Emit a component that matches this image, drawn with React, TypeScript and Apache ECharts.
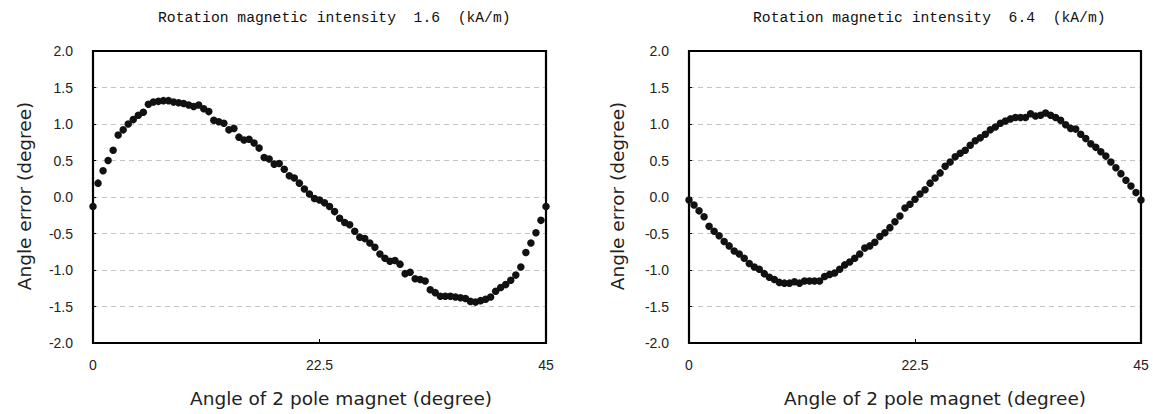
import React, { useEffect, useRef } from "react";
import * as echarts from "echarts";

const STEP = 0.5;
const TITLES = [
  "Rotation magnetic intensity  1.6  (kA/m)",
  "Rotation magnetic intensity  6.4  (kA/m)",
];
const X_NAME = "Angle of 2 pole magnet (degree)";
const Y_NAME = "Angle error (degree)";

const LEFT_VALUES = [
  -0.13, 0.19, 0.36, 0.5, 0.64, 0.85, 0.92, 1.0, 1.06, 1.12, 1.16, 1.27, 1.3, 1.31, 1.32, 1.32,
  1.3, 1.29, 1.28, 1.26, 1.24, 1.26, 1.21, 1.17, 1.05, 1.03, 1.01, 0.92, 0.94, 0.82, 0.78, 0.79,
  0.74, 0.67, 0.54, 0.52, 0.45, 0.46, 0.38, 0.29, 0.26, 0.19, 0.11, 0.04, -0.02, -0.04, -0.08,
  -0.13, -0.2, -0.29, -0.35, -0.38, -0.47, -0.55, -0.57, -0.63, -0.69, -0.78, -0.84, -0.88, -0.87,
  -0.92, -1.05, -1.03, -1.12, -1.13, -1.15, -1.27, -1.31, -1.36, -1.36, -1.36, -1.37, -1.38, -1.39,
  -1.43, -1.44, -1.42, -1.4, -1.37, -1.29, -1.24, -1.2, -1.14, -1.07, -0.96, -0.76, -0.63, -0.49,
  -0.32, -0.13,
];

const RIGHT_VALUES = [
  -0.04, -0.11, -0.19, -0.27, -0.4, -0.47, -0.53, -0.61, -0.67, -0.74, -0.78, -0.84, -0.91, -0.96,
  -0.99, -1.05, -1.1, -1.13, -1.17, -1.18, -1.18, -1.16, -1.18, -1.15, -1.15, -1.15, -1.15, -1.09,
  -1.06, -1.04, -0.99, -0.93, -0.89, -0.84, -0.78, -0.7, -0.67, -0.62, -0.54, -0.49, -0.42, -0.34,
  -0.26, -0.15, -0.1, -0.03, 0.04, 0.1, 0.19, 0.26, 0.33, 0.42, 0.48, 0.55, 0.6, 0.64, 0.71, 0.77,
  0.81, 0.86, 0.92, 0.96, 1.01, 1.04, 1.07, 1.09, 1.09, 1.09, 1.14, 1.11, 1.12, 1.15, 1.12, 1.09,
  1.05, 0.99, 0.94, 0.93, 0.86, 0.8, 0.73, 0.68, 0.62, 0.56, 0.48, 0.4, 0.32, 0.23, 0.15, 0.06,
  -0.04,
];

const X_TICKS = [0, 22.5, 45];
const Y_MIN = -2;
const Y_MAX = 2;
const Y_STEP = 0.5;

const toPairs = (vals: number[]) => vals.map((v, i) => [i * STEP, v]);

export default function App() {
  const ref = useRef<HTMLDivElement>(null);
  useEffect(() => {
    if (!ref.current) return;
    const chart = echarts.init(ref.current, null, { renderer: "svg" });
    const grids = [
      { left: 93, top: 51, width: 453, height: 292 },
      { left: 689, top: 51, width: 452, height: 292 },
    ];
    const tickFont = "'Liberation Sans', Arial, sans-serif";
    const xAxes: any[] = [];
    const yAxes: any[] = [];
    grids.forEach((_, i) => {
      xAxes.push({
        gridIndex: i,
        type: "value",
        position: "bottom",
        min: X_TICKS[0],
        max: X_TICKS[X_TICKS.length - 1],
        interval: X_TICKS[1] - X_TICKS[0],
        axisLine: { show: true, onZero: false, lineStyle: { color: "#000", width: 2 } },
        axisTick: { show: true, inside: true, length: 4, lineStyle: { color: "#000", width: 1 } },
        axisLabel: { margin: 15, color: "#222", fontSize: 14, fontFamily: tickFont },
        splitLine: { show: false },
      });
      yAxes.push({
        gridIndex: i,
        type: "value",
        position: "left",
        min: Y_MIN,
        max: Y_MAX,
        interval: Y_STEP,
        axisLine: { show: true, onZero: false, lineStyle: { color: "#000", width: 2 } },
        axisTick: { show: true, inside: true, length: 3, lineStyle: { color: "#000", width: 1 } },
        axisLabel: {
          margin: 20,
          color: "#222",
          fontSize: 14,
          fontFamily: tickFont,
          formatter: (v: number) => v.toFixed(1),
        },
        splitLine: {
          show: true,
          showMinLine: false,
          showMaxLine: false,
          lineStyle: { color: "#c4c4c4", type: [5, 4], width: 1 },
        },
      });
    });
    const nameFont = "'DejaVu Sans', sans-serif";
    const xNameCenters = [341, 935];
    const yNameCenters = [24, 617];
    const titleLefts = [158, 753];
    const graphics: any[] = [];
    grids.forEach((g) => {
      graphics.push({
        type: "rect",
        z: 4,
        shape: { x: g.left, y: g.top, width: g.width, height: g.height },
        style: { fill: "none", stroke: "#000", lineWidth: 2.2 },
        silent: true,
      });
    });
    for (let i = 0; i < 2; i++) {
      graphics.push({
        type: "text",
        x: titleLefts[i],
        y: 18,
        style: {
          text: TITLES[i],
          font: "14.7px 'Liberation Mono', 'DejaVu Sans Mono', monospace",
          fill: "#111",
          textAlign: "left",
          textVerticalAlign: "middle",
        },
      });
      graphics.push({
        type: "text",
        x: xNameCenters[i],
        y: 398,
        style: {
          text: X_NAME,
          font: `18.5px ${nameFont}`,
          fill: "#222",
          textAlign: "center",
          textVerticalAlign: "middle",
        },
      });
      graphics.push({
        type: "text",
        x: yNameCenters[i],
        y: 196,
        rotation: Math.PI / 2,
        style: {
          text: Y_NAME,
          font: `18.5px ${nameFont}`,
          fill: "#222",
          textAlign: "center",
          textVerticalAlign: "middle",
        },
      });
    }
    chart.setOption({
      animation: false,
      backgroundColor: "#fff",
      grid: grids.map((g) => ({ ...g, show: false })),
      xAxis: xAxes,
      yAxis: yAxes,
      graphic: graphics,
      series: [LEFT_VALUES, RIGHT_VALUES].map((vals, i) => ({
        type: "scatter",
        xAxisIndex: i,
        yAxisIndex: i,
        data: toPairs(vals),
        symbol: "circle",
        symbolSize: 7.5,
        itemStyle: { color: "#111", opacity: 1 },
        z: 5,
      })),
    });
    return () => chart.dispose();
  }, []);
  return (
    <div
      ref={ref}
      style={{ position: "absolute", left: 0, top: 0, width: 1153, height: 414 }}
    />
  );
}
